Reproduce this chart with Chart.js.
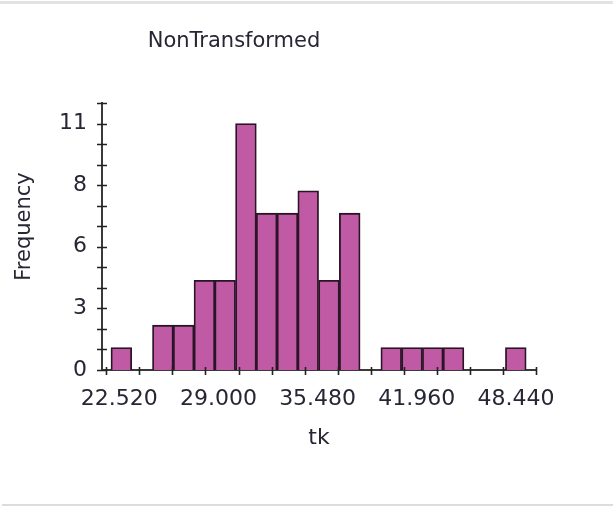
<!DOCTYPE html>
<html>
<head>
<meta charset="utf-8">
<script src="https://cdn.jsdelivr.net/npm/chart.js@4/dist/chart.umd.min.js"></script>
<style>
  html, body { margin: 0; padding: 0; background: #fff; }
  #wrap { position: relative; width: 613px; height: 506px; overflow: hidden; }
  #topline { position: absolute; left: 0; top: 1px; width: 613px; height: 3px; background: #e3e3e3; }
  #botline { position: absolute; left: 2px; top: 504px; width: 611px; height: 2px; background: #dcdcdc; }
  canvas { position: absolute; left: 0; top: 0; }
</style>
</head>
<body>
<div id="wrap">
  <div id="topline"></div>
  <div id="botline"></div>
  <canvas id="c" width="613" height="506"></canvas>
</div>
<script>
// ---- data ----
const binCenters = [23.505, 24.862, 26.218, 27.575, 28.932, 30.288, 31.645, 33.001, 34.358, 35.714,
                    37.071, 38.428, 39.784, 41.141, 42.497, 43.854, 45.211, 46.567, 47.924, 49.280];
const frequencies = [1, 0, 2, 2, 4, 4, 11, 7, 7, 8,
                     4, 7, 0, 1, 1, 1, 1, 0, 0, 1];

const xTickValues = [22.52, 24.68, 26.84, 29.00, 31.16, 33.32, 35.48, 37.64, 39.80, 41.96, 44.12, 46.28, 48.44, 50.60];
const xTickLabels = ['22.520', '', '', '29.000', '', '', '35.480', '', '', '41.960', '', '', '48.440', ''];

const yTickValues = [0, 0.9167, 1.8333, 2.75, 3.6667, 4.5833, 5.5, 6.4167, 7.3333, 8.25, 9.1667, 10.0833, 11, 11.9167];
const yTickLabels = ['0', '', '', '3', '', '', '6', '', '', '8', '', '', '11', ''];

const chartTitle = 'NonTransformed';
const xTitle = 'tk';
const yTitle = 'Frequency';

// ---- styling ----
const FONT = 'DejaVu Sans';
const TEXT = '#262634';

const crossTicks = {
  id: 'crossTicks',
  afterDatasetsDraw(chart) {
    const ctx = chart.ctx;
    const xs = chart.scales.x, ys = chart.scales.y;
    const axisX = chart.chartArea.left, axisY = chart.chartArea.bottom;
    ctx.save();
    ctx.strokeStyle = '#222';
    ctx.lineWidth = 1.6;
    ctx.beginPath();
    ys.ticks.forEach((t) => {
      const py = Math.round(ys.getPixelForValue(t.value)) + 0.5;
      ctx.moveTo(axisX - 5, py); ctx.lineTo(axisX + 5, py);
    });
    xs.ticks.forEach((t) => {
      const px = Math.round(xs.getPixelForValue(t.value)) + 0.5;
      ctx.moveTo(px, axisY - 3); ctx.lineTo(px, axisY + 5);
    });
    ctx.stroke();
    ctx.restore();
  }
};

const moveTitle = {
  id: 'moveTitle',
  afterLayout(chart) {
    if (chart.titleBlock) {
      chart.titleBlock.left = 0;
      chart.titleBlock.right = 468;
    }
  }
};

new Chart(document.getElementById('c'), {
  type: 'bar',
  data: {
    datasets: [{
      label: yTitle,
      data: binCenters.map((x, i) => ({ x: x, y: frequencies[i] })),
      backgroundColor: '#c05aa5',
      borderColor: '#2a1426',
      borderWidth: 1.8,
      borderSkipped: 'start',
      barPercentage: 1,
      categoryPercentage: 1
    }]
  },
  plugins: [crossTicks, moveTitle],
  options: {
    responsive: false,
    animation: false,
    devicePixelRatio: 1,
    layout: { padding: { left: 0, right: 77, top: 0, bottom: 0 } },
    plugins: {
      legend: { display: false },
      tooltip: { enabled: false },
      title: {
        display: true,
        text: chartTitle,
        color: TEXT,
        font: { family: FONT, size: 21, weight: 'normal', lineHeight: 1.2 },
        padding: { top: 29, bottom: 48.8 }
      }
    },
    scales: {
      x: {
        type: 'linear',
        offset: false,
        min: 22.24,
        max: 50.60,
        afterBuildTicks(scale) { scale.ticks = xTickValues.map(v => ({ value: v })); },
        afterFit(scale) { scale.height = 136; },
        grid: { display: false, drawTicks: false, offset: false },
        border: { display: true, color: '#3a3a3a', width: 2 },
        ticks: {
          autoSkip: false,
          maxRotation: 0,
          padding: 16,
          labelOffset: 13,
          color: TEXT,
          font: { family: FONT, size: 22 },
          callback(value, index) { return xTickLabels[index]; }
        },
        title: {
          display: true,
          text: xTitle,
          color: TEXT,
          font: { family: FONT, size: 22, lineHeight: 1.2 },
          padding: { top: 0, bottom: 55 }
        }
      },
      y: {
        type: 'linear',
        min: 0,
        max: 11.9167,
        afterBuildTicks(scale) { scale.ticks = yTickValues.map(v => ({ value: v })); },
        afterFit(scale) { scale.width = 102; },
        grid: { display: false, drawTicks: false },
        border: { display: true, color: '#3a3a3a', width: 2 },
        ticks: {
          autoSkip: false,
          padding: 15,
          color: TEXT,
          font: { family: FONT, size: 22 },
          callback(value, index) { return yTickLabels[index]; }
        },
        title: {
          display: true,
          text: '   ' + yTitle,
          color: TEXT,
          font: { family: FONT, size: 21, lineHeight: 1.2 },
          padding: { top: 12, bottom: 0 }
        }
      }
    }
  }
});
</script>
</body>
</html>
